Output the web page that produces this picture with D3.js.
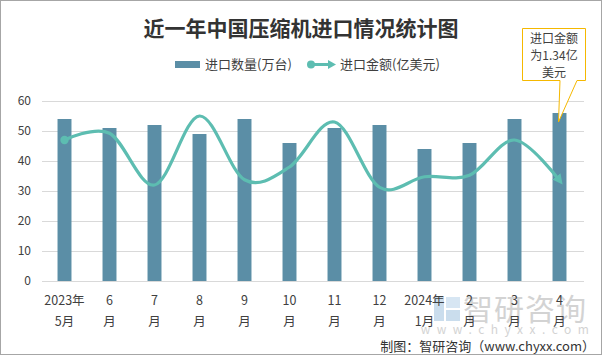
<!DOCTYPE html>
<html><head><meta charset="utf-8">
<script src="https://cdn.jsdelivr.net/npm/d3@7"></script>
<style>
html,body{margin:0;padding:0;background:#fff;}
text{font-family:"Noto Sans CJK SC","Noto Sans",sans-serif;}
</style></head>
<body>
<svg id="chart" width="604" height="356"></svg>
<script>
const categories = ["2023年\n5月","6\n月","7\n月","8\n月","9\n月","10\n月","11\n月","12\n月","2024年\n1月","2\n月","3\n月","4\n月"];
const quantity = [54,51,52,49,54,46,51,52,44,46,54,56];        // 万台
const amount = [1.88,1.97,1.28,2.20,1.35,1.52,2.12,1.25,1.39,1.41,1.88,1.34]; // 亿美元
const yTicks = [0,10,20,30,40,50,60];
const title = "近一年中国压缩机进口情况统计图";
const legendLabels = ["进口数量(万台)","进口金额(亿美元)"];
const calloutLines = ["进口金额","为1.34亿","美元"];
const footer = "制图：智研咨询（www.chyxx.com）";

const svg = d3.select("#chart");
const W = 604, H = 356;
const m = {left:42, right:22, top:101, bottom:75};
const barColor = "#5b8ea6", lineColor = "#5dbdb1", textColor = "#404040";

svg.append("rect").attr("x",0.5).attr("y",0.5).attr("width",601).attr("height",354)
  .attr("fill","#fff").attr("stroke","#a6a6a6");

const x = d3.scaleBand().domain(d3.range(categories.length)).range([m.left, W-m.right]).paddingInner(0.69).paddingOuter(0.345);
const y = d3.scaleLinear().domain([0,60]).range([H-m.bottom, m.top]);
const y2 = d3.scaleLinear().domain([0,2.4]).range([H-m.bottom, m.top]);

// watermark
const wm = svg.append("g").attr("opacity",0.55);
wm.append("rect").attr("x",434).attr("y",297).attr("width",10).attr("height",24).attr("fill","#9fc3e0");
wm.append("rect").attr("x",446).attr("y",297).attr("width",14).attr("height",11).attr("fill","#b8d3ea");
wm.append("rect").attr("x",446).attr("y",310).attr("width",14).attr("height",11).attr("fill","#9fc3e0");
wm.append("text").attr("x",525).attr("y",320).attr("text-anchor","middle").attr("font-size",30)
  .attr("fill","#b0b0b0").attr("letter-spacing",1).text("智研咨询");
wm.append("text").attr("x",508).attr("y",334).attr("text-anchor","middle").attr("font-size",12)
  .attr("fill","#b0b0b0").attr("letter-spacing",6.5).text("www.chyxx.com");

// gridlines
svg.append("g").selectAll("line").data(yTicks).join("line")
  .attr("x1",m.left).attr("x2",W-m.right+2)
  .attr("y1",d=>Math.round(y(d))+0.5).attr("y2",d=>Math.round(y(d))+0.5)
  .attr("stroke","#d9d9d9").attr("stroke-width",1);

// y axis labels
const yAxis = d3.axisLeft(y).tickValues(yTicks).tickSize(0).tickPadding(11);
const ga = svg.append("g").attr("transform",`translate(${m.left},0)`).call(yAxis);
ga.select(".domain").remove();
ga.selectAll("text").attr("font-size",12).attr("fill",textColor)
  .attr("font-family","'Noto Sans CJK SC','Noto Sans',sans-serif");

// bars
svg.append("g").selectAll("rect").data(quantity).join("rect")
  .attr("x",(d,i)=>x(i)).attr("width",x.bandwidth())
  .attr("y",d=>y(d)).attr("height",d=>y(0)-y(d))
  .attr("fill",barColor);

// line
const defs = svg.append("defs");
defs.append("marker").attr("id","arrow").attr("viewBox","0 0 10 10").attr("refX",5).attr("refY",5)
  .attr("markerWidth",3.2).attr("markerHeight",3.2).attr("orient","auto").attr("markerUnits","strokeWidth")
  .append("path").attr("d","M0,0 L10,5 L0,10 z").attr("fill",lineColor);

const line = d3.line().x((d,i)=>x(i)+x.bandwidth()/2).y(d=>y2(d)).curve(d3.curveCardinal.tension(0));
svg.append("path").datum(amount).attr("d",line).attr("fill","none")
  .attr("stroke",lineColor).attr("stroke-width",3.2).attr("marker-end","url(#arrow)");
svg.append("circle").attr("cx",x(0)+x.bandwidth()/2).attr("cy",y2(amount[0])).attr("r",4.2).attr("fill",lineColor);

// x labels
const xl = svg.append("g");
categories.forEach((c,i)=>{
  const parts = c.split("\n");
  const t = xl.append("text").attr("text-anchor","middle").attr("font-size",12.5).attr("fill",textColor);
  parts.forEach((p,k)=>{
    t.append("tspan").attr("x",x(i)+x.bandwidth()/2).attr("y",305+k*21).text(p);
  });
});

// title
svg.append("text").attr("x",301).attr("y",36).attr("text-anchor","middle").attr("font-size",21)
  .attr("font-weight","bold").attr("fill","#333").text(title);

// legend
const lg = svg.append("g");
lg.append("rect").attr("x",175).attr("y",61).attr("width",25).attr("height",7).attr("fill",barColor);
lg.append("text").attr("x",205).attr("y",69).attr("font-size",13).attr("fill",textColor).text(legendLabels[0]);
lg.append("line").attr("x1",310).attr("x2",330).attr("y1",64.5).attr("y2",64.5).attr("stroke",lineColor).attr("stroke-width",3);
lg.append("circle").attr("cx",311).attr("cy",64.5).attr("r",4).attr("fill",lineColor);
lg.append("path").attr("d","M328,60 L336,64.5 L328,69 z").attr("fill",lineColor);
lg.append("text").attr("x",340).attr("y",69).attr("font-size",13).attr("fill",textColor).text(legendLabels[1]);

// callout
const last = quantity.length-1;
const tipX = x(last)+x.bandwidth()/2 - 1, tipY = y(quantity[last]) + 9;
const bx0 = 522.5, bx1 = 585.5, by0 = 28.5, by1 = 80.5;
const cg = svg.append("g");
cg.append("path").attr("d",`M${bx0},${by0} L${bx1},${by0} L${bx1},${by1} L577,${by1} L${tipX},${tipY} L560,${by1} L${bx0},${by1} Z`)
  .attr("fill","#fff").attr("stroke","#f5b800").attr("stroke-width",1);
calloutLines.forEach((s,k)=>{
  cg.append("text").attr("x",(bx0+bx1)/2).attr("y",43+k*17).attr("text-anchor","middle")
    .attr("font-size",12).attr("fill",textColor).text(s);
});

// footer
svg.append("text").attr("x",595).attr("y",351).attr("text-anchor","end").attr("font-size",13)
  .attr("fill","#333").text(footer);
</script>
</body></html>
